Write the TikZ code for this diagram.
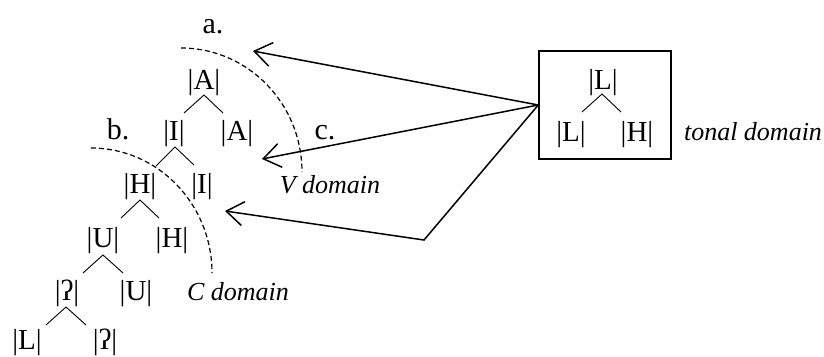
\documentclass[tikz,border=0pt]{standalone}
\usepackage{fontspec}
\setmainfont{Liberation Serif}
\usetikzlibrary{arrows.meta}
\begin{document}
\begin{tikzpicture}[x=1pt,y=-1pt,
  el/.style={inner sep=0pt,anchor=base,font=\fontsize{29}{33}\selectfont},
  lab/.style={inner sep=0pt,anchor=base,font=\fontsize{30}{34}\selectfont},
  dom/.style={inner sep=0pt,anchor=base,font=\fontsize{26}{30}\selectfont\itshape},
  branch/.style={line width=0.9pt},
  domline/.style={line width=1.2pt,dash pattern=on 5pt off 3pt},
  arr/.style={line width=1.5pt,-{Straight Barb[length=17pt,width=24pt,line width=1.5pt]}}]
\useasboundingbox (0,0) rectangle (824,356);

% element tree
\node[el] (A1) at (204,89) {|A|};
\node[el] (I2) at (174,140) {|I|};
\node[el] (A2) at (237,140) {|A|};
\node[el] (H3) at (140,193) {|H|};
\node[el] (I3) at (202,193) {|I|};
\node[el] (U4) at (103,247) {|U|};
\node[el] (H4) at (172,247) {|H|};
\node[el] (G5) at (67,300) {|ʔ|};
\node[el] (U5) at (136,300) {|U|};
\node[el] (L6) at (27,349) {|L|};
\node[el] (G6) at (105,349) {|ʔ|};

\draw[branch] (184,113) -- (204,95) -- (223,113);
\draw[branch] (156,166) -- (175,147) -- (194,165);
\draw[branch] (121,218) -- (140,200) -- (159,218);
\draw[branch] (83,273) -- (103,255) -- (123,273);
\draw[branch] (46,325) -- (66,307) -- (86,325);

% domain boundaries
\draw[domline] (181,48) arc[start angle=90,end angle=0,x radius=121,y radius=-124];
\draw[domline] (91,148) arc[start angle=90,end angle=0,x radius=121,y radius=-125];

\node[lab] (la) at (213,33) {a.};
\node[lab] (lb) at (118,139) {b.};
\node[lab] (lc) at (325,139) {c.};
\node[dom] (vd) at (330,193) {V domain};
\node[dom] (cd) at (238,300) {C domain};

% tonal domain box
\node[draw,line width=1.5pt,minimum width=132pt,minimum height=108pt,inner sep=0pt] (box) at (605,105) {};
\node[el] (Lt) at (603,89) {|L|};
\node[el] (Lb) at (571,141) {|L|};
\node[el] (Hb) at (637,141) {|H|};
\draw[branch] (582,112) -- (602,94) -- (621,112);
\node[dom] (td) at (753,140) {tonal domain};

% arrows from the tonal domain
\coordinate (src) at (box.west);
\coordinate (ta) at (253,51);
\coordinate (tc) at (262,159);
\coordinate (bend) at (424,240);
\coordinate (tb) at (225,211);
\draw[arr] (src) -- (ta);
\draw[arr] (src) -- (tc);
\draw[arr] (src) -- (bend) -- (tb);
\end{tikzpicture}
\end{document}
